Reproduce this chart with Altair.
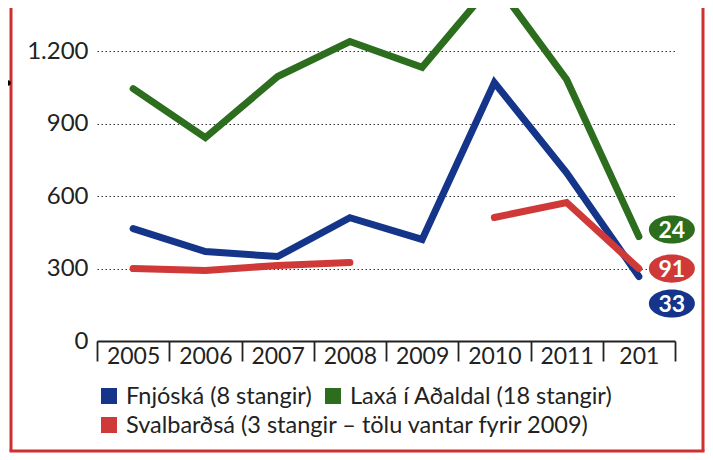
import altair as alt
import pandas as pd

# ---- data ----
years = ["2005", "2006", "2007", "2008", "2009", "2010", "2011", "201"]
series_names = [
    "Fnjóská (8 stangir)",
    "Laxá í Aðaldal (18 stangir)",
    "Svalbarðsá (3 stangir – tölu vantar fyrir 2009)",
]
fnjoska = [466, 371, 350, 511, 421, 1071, 697, 267]
laxa = [1046, 843, 1096, 1241, 1134, 1490, 1084, 433]
svalbardsa = [300, 292, 313, 325, None, 512, 574, 300]
badge_values = [33, 24, 91]  # Fnjóská, Laxá, Svalbarðsá
y_ticks = [0, 300, 600, 900, 1200]

colors = ["#15358b", "#2c6d1e", "#cf3a39"]
border_color = "#cf2f2f"
FONT = "Lato"
TEXT = "#222222"

rows = []
for name, vals in zip(series_names, [fnjoska, laxa, svalbardsa]):
    seg = 0
    for yr, v in zip(years, vals):
        if v is None:
            seg += 1
            continue
        rows.append({"year": yr, "value": v, "series": name, "seg": f"{name}-{seg}"})
df = pd.DataFrame(rows)

x_enc = alt.X(
    "year:N",
    sort=years,
    bandPosition=0.5,
    scale=alt.Scale(type="band", domain=years, paddingInner=0, paddingOuter=0),
    axis=alt.Axis(
        title=None, tickBand="extent", tickSize=20, tickWidth=1.8, tickColor=TEXT,
        domainColor=TEXT, domainWidth=1.8, labelFont=FONT, labelFontSize=23,
        labelColor=TEXT, labelPadding=-16, labelAngle=0, grid=False,
    ),
)
y_enc = alt.Y(
    "value:Q",
    scale=alt.Scale(domain=[0, 1380], nice=False, zero=True),
    axis=alt.Axis(
        title=None, values=y_ticks, domain=False, ticks=False, grid=True,
        gridDash=[1.5, 2.5], gridColor="#333", gridWidth=1.2,
        labelExpr="replace(format(datum.value, ','), ',', '.')",
        labelFont=FONT, labelFontSize=24, labelColor=TEXT, labelPadding=9,
    ),
)

lines = alt.Chart(df).mark_line(strokeWidth=7, strokeCap="round", strokeJoin="miter").encode(
    x=x_enc,
    y=y_enc,
    detail="seg:N",
    color=alt.Color("series:N", scale=alt.Scale(domain=series_names, range=colors), legend=None),
)

# end-of-line badges
ellipse = "M -1 0 A 1 0.61 0 1 0 1 0 A 1 0.61 0 1 0 -1 0 Z"
badge_dy = [27, -7, 0]
badge_layers = []
for name, vals, bval, col, dy in zip(series_names, [fnjoska, laxa, svalbardsa], badge_values, colors, badge_dy):
    bdf = pd.DataFrame({"year": [years[-1]], "value": [vals[-1]], "label": [str(bval)]})
    badge_layers.append(
        alt.Chart(bdf).mark_point(shape=ellipse, size=2116, filled=True, color=col, opacity=1,
                                  xOffset=33, yOffset=dy).encode(x=alt.X("year:N", sort=years), y="value:Q")
    )
    badge_layers.append(
        alt.Chart(bdf).mark_text(font=FONT, fontWeight="bold", fontSize=23, color="white",
                                 baseline="middle", align="center", xOffset=33, yOffset=dy + 1).encode(
            x=alt.X("year:N", sort=years), y="value:Q", text="label:N")
    )

# legend (two rows, packed like the original)
legend_slots = [(12, 388), (236, 388), (12, 417)]  # square centres in plot pixels
legend_layers = []
for name, col, (sx, sy) in zip(series_names, colors, legend_slots):
    ldf = pd.DataFrame({"label": [name]})
    legend_layers.append(
        alt.Chart(ldf).mark_square(size=256, color=col, opacity=1).encode(
            x=alt.value(sx), y=alt.value(sy))
    )
    legend_layers.append(
        alt.Chart(ldf).mark_text(font=FONT, fontSize=23.5, color=TEXT, align="left",
                                 baseline="middle").encode(
            x=alt.value(sx + 17), y=alt.value(sy + 1), text="label:N")
    )

one = pd.DataFrame({"a": [0]})
border = [
    alt.Chart(one).mark_rule(color=border_color, strokeWidth=3).encode(
        x=alt.value(-86), y=alt.value(-20), y2=alt.value(443)),
    alt.Chart(one).mark_rule(color=border_color, strokeWidth=3).encode(
        x=alt.value(-87.5), x2=alt.value(607.5), y=alt.value(443)),
    alt.Chart(one).mark_rule(color=border_color, strokeWidth=3).encode(
        x=alt.value(606), y=alt.value(-20), y2=alt.value(443)),
    alt.Chart(one).mark_circle(color="black", size=30, opacity=1).encode(
        x=alt.value(-89), y=alt.value(75)),
]

chart = alt.layer(lines, *badge_layers, *legend_layers, *border).properties(
    width=578,
    height=333,
    padding={"left": 89, "top": 0, "right": 30, "bottom": 113},
    autosize=alt.AutoSizeParams(type="none"),
    background="white",
).configure_view(stroke=None)

chart.save("out.html", embed_options={"renderer": "svg", "actions": False})
